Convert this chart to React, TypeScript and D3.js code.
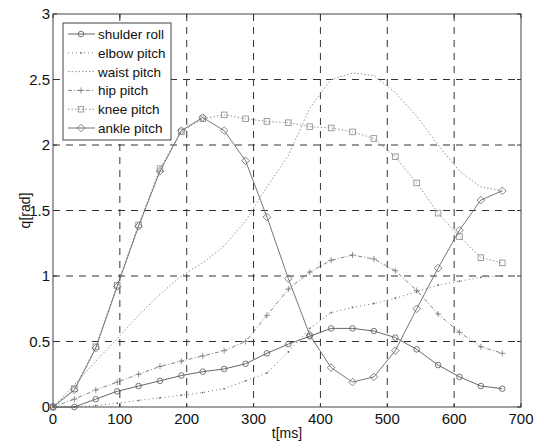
import React from "react";
import * as d3 from "d3";

const times = [0, 32, 64, 96, 128, 160, 192, 224, 256, 288, 320, 352, 384, 416, 448, 480, 512, 544, 576, 608, 640, 672];

const shulderRoll = [0, 0.0, 0.06, 0.12, 0.16, 0.2, 0.24, 0.27, 0.29, 0.33, 0.41, 0.48, 0.54, 0.6, 0.6, 0.58, 0.53, 0.44, 0.32, 0.23, 0.16, 0.14];
const elbowPitch = [0, 0.0, 0.01, 0.03, 0.05, 0.07, 0.09, 0.11, 0.14, 0.2, 0.26, 0.42, 0.6, 0.72, 0.76, 0.79, 0.83, 0.88, 0.93, 0.96, 0.99, 1.0];
const waistPitch = [0, 0.17, 0.35, 0.52, 0.7, 0.86, 1.0, 1.1, 1.23, 1.42, 1.68, 1.92, 2.28, 2.5, 2.55, 2.53, 2.4, 2.22, 2.0, 1.8, 1.68, 1.65];
const hipPitch = [0, 0.06, 0.13, 0.19, 0.25, 0.31, 0.35, 0.39, 0.43, 0.5, 0.7, 0.9, 1.03, 1.12, 1.16, 1.13, 1.04, 0.89, 0.71, 0.57, 0.46, 0.41];
const kneePitch = [0, 0.14, 0.46, 0.93, 1.39, 1.82, 2.1, 2.2, 2.23, 2.2, 2.18, 2.17, 2.14, 2.13, 2.1, 2.05, 1.91, 1.71, 1.48, 1.3, 1.14, 1.1];
const anklePitch = [0, 0.13, 0.45, 0.92, 1.38, 1.8, 2.11, 2.21, 2.11, 1.88, 1.45, 0.98, 0.55, 0.3, 0.19, 0.23, 0.43, 0.75, 1.06, 1.35, 1.58, 1.65];

const seriesNames = ["shulder roll", "elbow pitch", "waist pitch", "hip pitch", "knee pitch", "ankle pitch"];
const seriesValues = [shulderRoll, elbowPitch, waistPitch, hipPitch, kneePitch, anklePitch];

const xTicks = [0, 100, 200, 300, 400, 500, 600, 700];
const yTicks = [0, 0.5, 1, 1.5, 2, 2.5, 3];
const yTickLabels = ["0", "0.5", "1", "1.5", "2", "2.5", "3"];

type Style = { dash: string; marker: string; color: string };
const styles: Style[] = [
  { dash: "none", marker: "circle", color: "#555" },
  { dash: "1,3", marker: "dot", color: "#666" },
  { dash: "1.5,2", marker: "none", color: "#888" },
  { dash: "4,2,1,2", marker: "plus", color: "#777" },
  { dash: "1.5,2", marker: "square", color: "#888" },
  { dash: "none", marker: "diamond", color: "#666" },
];

const FONT = "'Liberation Sans', Arial, sans-serif";

function Marker({ kind, x, y, color }: { kind: string; x: number; y: number; color: string }) {
  if (kind === "circle") return <circle cx={x} cy={y} r={2.8} fill="none" stroke={color} strokeWidth={0.8} />;
  if (kind === "dot") return <circle cx={x} cy={y} r={0.9} fill={color} />;
  if (kind === "plus")
    return (
      <path d={`M${x - 3},${y}H${x + 3}M${x},${y - 3}V${y + 3}`} stroke={color} strokeWidth={0.8} />
    );
  if (kind === "square")
    return <rect x={x - 2.8} y={y - 2.8} width={5.6} height={5.6} fill="none" stroke={color} strokeWidth={0.8} />;
  if (kind === "diamond")
    return (
      <path d={`M${x},${y - 3.8}L${x + 3.8},${y}L${x},${y + 3.8}L${x - 3.8},${y}Z`} fill="none" stroke={color} strokeWidth={0.8} />
    );
  return null;
}

export default function App() {
  const W = 539, H = 443;
  const left = 53, right = 521, top = 14, bottom = 407;
  const x = d3.scaleLinear().domain([0, 700]).range([left, right]);
  const y = d3.scaleLinear().domain([0, 3]).range([bottom, top]);
  const line = d3.line<number>().x((_, i) => x(times[i])).y((d) => y(d));

  const legendX = 63, legendY = 23, legendW = 108, legendH = 117;

  return (
    <svg width={W} height={H} style={{ position: "absolute", left: 0, top: 0, background: "#fff" }} fontFamily={FONT}>
      <rect x={0} y={0} width={W} height={H} fill="#fff" />
      {xTicks.slice(1, -1).map((t) => (
        <line key={"gx" + t} x1={x(t)} x2={x(t)} y1={top} y2={bottom} stroke="#333" strokeWidth={1} strokeDasharray="7,6" />
      ))}
      {yTicks.slice(1, -1).map((t) => (
        <line key={"gy" + t} x1={left} x2={right} y1={y(t)} y2={y(t)} stroke="#333" strokeWidth={1} strokeDasharray="7,6" />
      ))}
      <rect x={left} y={top} width={right - left} height={bottom - top} fill="none" stroke="#444" strokeWidth={1} />
      {xTicks.map((t) => (
        <g key={"tx" + t}>
          <line x1={x(t)} x2={x(t)} y1={bottom} y2={bottom - 4} stroke="#333" />
          <line x1={x(t)} x2={x(t)} y1={top} y2={top + 4} stroke="#333" />
          <text x={x(t)} y={bottom + 17} fontSize={15} textAnchor="middle" fill="#111">{t}</text>
        </g>
      ))}
      {yTicks.map((t, i) => (
        <g key={"ty" + t}>
          <line x1={left} x2={left + 4} y1={y(t)} y2={y(t)} stroke="#333" />
          <line x1={right} x2={right - 4} y1={y(t)} y2={y(t)} stroke="#333" />
          <text x={left - 3} y={y(t) + 5} fontSize={15} textAnchor="end" fill="#111">{yTickLabels[i]}</text>
        </g>
      ))}
      <text x={(left + right) / 2} y={438} fontSize={14} textAnchor="middle" fill="#111">t[ms]</text>
      <text transform={`translate(30,${(top + bottom) / 2}) rotate(-90)`} fontSize={14} textAnchor="middle" fill="#111">q[rad]</text>
      {seriesValues.map((vals, si) => (
        <g key={"s" + si}>
          <path d={line(vals) || ""} fill="none" stroke={styles[si].color} strokeWidth={0.9} strokeDasharray={styles[si].dash} />
          {vals.map((v, i) => (
            <Marker key={i} kind={styles[si].marker} x={x(times[i])} y={y(v)} color={styles[si].color} />
          ))}
        </g>
      ))}
      <rect x={legendX} y={legendY} width={legendW} height={legendH} fill="#fff" stroke="#444" strokeWidth={1} />
      {seriesNames.map((name, i) => {
        const ly = legendY + 11 + i * 18.8;
        return (
          <g key={"l" + i}>
            <line x1={legendX + 5} x2={legendX + 32} y1={ly} y2={ly} stroke={styles[i].color} strokeWidth={0.9} strokeDasharray={styles[i].dash} />
            <Marker kind={styles[i].marker} x={legendX + 18} y={ly} color={styles[i].color} />
            <text x={legendX + 35} y={ly + 5} fontSize={13.5} fill="#111">{name}</text>
          </g>
        );
      })}
    </svg>
  );
}
